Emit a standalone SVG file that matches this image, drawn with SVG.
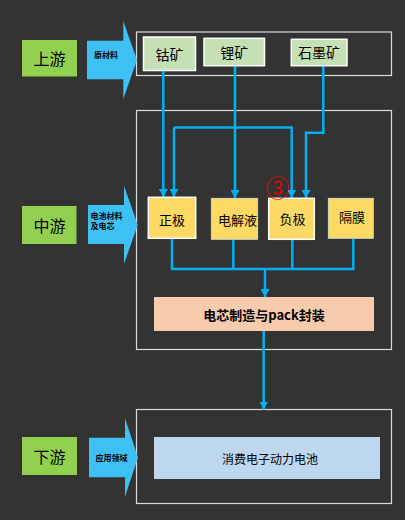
<svg xmlns="http://www.w3.org/2000/svg" width="405" height="520" viewBox="0 0 405 520">
<defs>
<marker id="ah" markerUnits="userSpaceOnUse" markerWidth="9" markerHeight="9" refX="8" refY="4.5" orient="auto">
<path d="M0,0 L8,4.5 L0,9 Z" fill="#00b0f0"/>
</marker>
<style>
.frame{fill:none;stroke:#d9d9d9;stroke-width:1.2}
.stage{fill:#92d050}
.big{fill:#3fc0f5}
.t{font-family:"Noto Sans CJK SC","Noto Sans",sans-serif;fill:#000;text-anchor:middle;dominant-baseline:central}
.lab{font-family:"Noto Sans CJK SC","Noto Sans",sans-serif;fill:#000;font-weight:bold;font-size:8px}
.ore{fill:#c5e0b4;stroke:#fff;stroke-width:1.5}
.mat{fill:#ffd966}
.w{stroke:#fff;stroke-width:1.5}
.l{stroke:#d0e8e0;stroke-width:0.8}
.c{fill:none;stroke:#00b0f0;stroke-width:2.5}
</style>
</defs>
<rect width="405" height="520" fill="#333333"/>

<g id="frames">
<rect class="frame" x="136.5" y="32" width="255" height="43.5"/>
<rect class="frame" x="136.5" y="110.5" width="255" height="239"/>
<rect class="frame" x="136.5" y="409.5" width="255" height="94"/>
</g>

<g id="upstream">
<rect class="stage" x="22" y="40" width="55" height="36.5"/>
<text class="t" x="49.5" y="58" font-size="16">上游</text>
</g>
<g id="arrow-raw">
<path class="big" d="M87,40.7 H123.3 V21 L137,60 L123.3,99 V79.3 H87 Z"/>
<text class="lab" x="94" y="57.5" font-size="9">原材料</text>
</g>

<g id="midstream">
<rect class="stage" x="22" y="206" width="54.5" height="38"/>
<text class="t" x="49.5" y="225" font-size="16">中游</text>
</g>
<g id="arrow-mid">
<path class="big" d="M88,205 H124 V185.7 L137.7,225 L124,264 V244 H88 Z"/>
<text class="lab" x="90.5" y="219">电池材料</text>
<text class="lab" x="90.5" y="229">及电芯</text>
</g>

<g id="downstream">
<rect class="stage" x="22" y="437" width="55" height="38"/>
<text class="t" x="49.5" y="456" font-size="16">下游</text>
</g>
<g id="arrow-down">
<path class="big" d="M89,437.7 H125 V418.3 L138,457.5 L125,496.7 V477.3 H89 Z"/>
<text class="lab" x="111.5" y="460.5" text-anchor="middle" font-size="9">应用领域</text>
</g>

<g id="connectors">
<path class="c" d="M163.3,71 V197" marker-end="url(#ah)"/>
<path class="c" d="M235,66 V198" marker-end="url(#ah)"/>
<path class="c" d="M174,127.5 V197" marker-end="url(#ah)"/>
<path class="c" d="M174,127.5 H291.7 V198" marker-end="url(#ah)"/>
<path class="c" d="M323.3,66 V132.7 H306 V198" marker-end="url(#ah)"/>
<path class="c" d="M172,239 V269 H353.3 V239"/>
<path class="c" d="M233.3,240 V269"/>
<path class="c" d="M292.3,240 V269"/>
<path class="c" d="M265,269 V297" marker-end="url(#ah)"/>
<path class="c" d="M263.7,331 V409.5" marker-end="url(#ah)"/>
</g>

<g id="ore-cobalt">
<rect class="ore" x="143.5" y="37" width="52" height="33.5"/>
<text class="t" x="169.5" y="54" font-size="14">钴矿</text>
</g>
<g id="ore-lithium">
<rect class="ore" x="204" y="38.3" width="60.5" height="27.4"/>
<text class="t" x="234.3" y="51.5" font-size="14">锂矿</text>
</g>
<g id="ore-graphite">
<rect class="ore" x="291.3" y="39.3" width="55.7" height="26.4"/>
<text class="t" x="319" y="52" font-size="14">石墨矿</text>
</g>

<g id="cathode">
<rect class="mat w" x="148.3" y="197.3" width="47.4" height="41"/>
<text class="t" x="172" y="219" font-size="13">正极</text>
</g>
<g id="electrolyte">
<rect class="mat l" x="211.3" y="198.3" width="46.4" height="41"/>
<text class="t" x="237.5" y="219" font-size="13">电解液</text>
</g>
<g id="anode">
<rect class="mat w" x="268.7" y="198.3" width="45.6" height="41"/>
<text class="t" x="292.5" y="218.5" font-size="13">负极</text>
<text x="277.5" y="186.5" font-family="Noto Sans CJK SC,sans-serif" font-size="24" fill="#e00000" text-anchor="middle" dominant-baseline="central">③</text>
</g>
<g id="separator">
<rect class="mat l" x="328.3" y="198.3" width="45" height="40"/>
<text class="t" x="352" y="216.5" font-size="13">隔膜</text>
</g>

<g id="cell-pack">
<rect x="154" y="297" width="220" height="34" fill="#f8cbad"/>
<text class="t" x="264" y="314" font-size="13" font-weight="bold">电芯制造与pack封装</text>
</g>
<g id="consumer">
<rect x="154" y="437" width="226" height="42" fill="#bdd7ee"/>
<text class="t" x="270" y="458" font-size="12">消费电子动力电池</text>
</g>
</svg>
